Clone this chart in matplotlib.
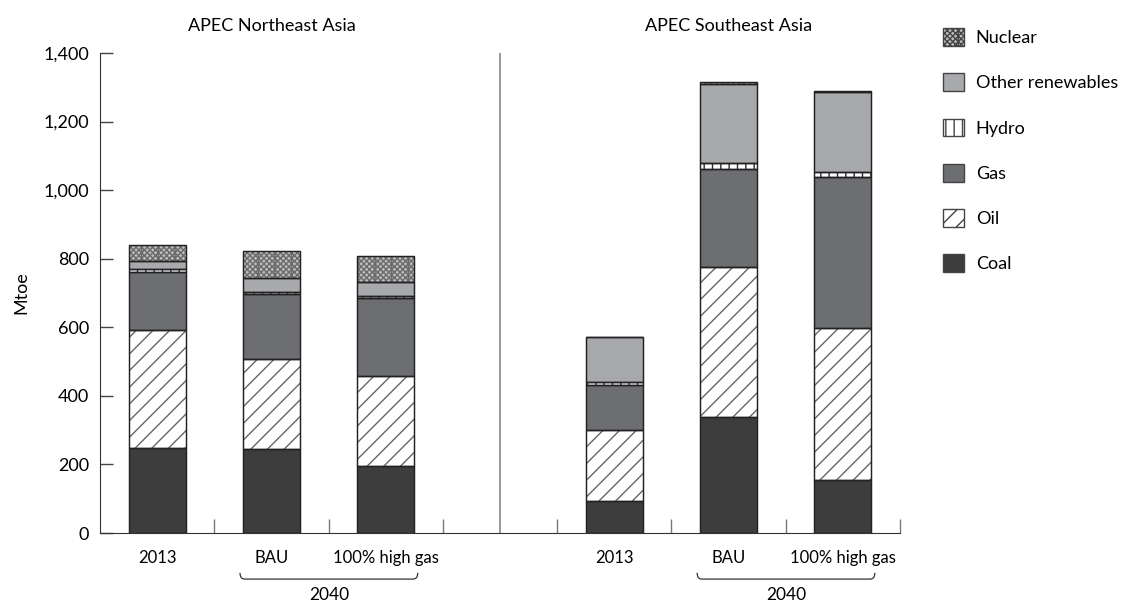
import matplotlib
matplotlib.use("Agg")
import matplotlib.pyplot as plt
from matplotlib.patches import Patch
from matplotlib.path import Path
from matplotlib.patches import PathPatch
import matplotlib.transforms as mtransforms
import numpy as np

plt.rcParams['font.family'] = ['Lato', 'DejaVu Sans']
plt.rcParams['hatch.linewidth'] = 1.0

# Data (Mtoe): NE 2013, NE BAU, NE high gas, SE 2013, SE BAU, SE high gas
categories = ["2013", "BAU", "100% high gas", "2013", "BAU", "100% high gas"]
regions = ["APEC Northeast Asia", "APEC Southeast Asia"]
coal = [247, 244, 196, 93, 337, 155]
oil = [345, 263, 263, 206, 440, 442]
gas = [168, 190, 226, 133, 286, 440]
hydro = [10, 7, 7, 8, 17, 16]
other_ren = [22, 41, 39, 131, 231, 232]
nuclear = [49, 78, 78, 0, 5, 5]
yticks = [0, 200, 400, 600, 800, 1000, 1200, 1400]

series = [
    ("Coal", coal, dict(facecolor="#3d3d3d", hatch=None, edgecolor="#2a2a2a")),
    ("Oil", oil, dict(facecolor="white", hatch="//", edgecolor="#666666")),
    ("Gas", gas, dict(facecolor="#6d6e71", hatch=None, edgecolor="#2a2a2a")),
    ("Hydro", hydro, dict(facecolor="white", hatch="||", edgecolor="#2a2a2a")),
    ("Other renewables", other_ren, dict(facecolor="#a7a9ac", hatch=None, edgecolor="#2a2a2a")),
    ("Nuclear", nuclear, dict(facecolor="#bdbdbd", hatch="|xxxxxx", edgecolor="#6a6a6a")),
]

fig = plt.figure(figsize=(11.27, 6.07), dpi=100)
ax = fig.add_axes([100/1127, 74/607, 800/1127, 480/607])

xpos = [0, 1, 2, 4, 5, 6]
bottom = np.zeros(len(xpos))
for name, vals, st in series:
    v = np.array(vals, dtype=float)
    ax.bar(xpos, v, width=0.5, bottom=bottom, facecolor=st["facecolor"],
           hatch=st["hatch"], edgecolor=st["edgecolor"], linewidth=0.8, zorder=2)
    # outline
    ax.bar(xpos, v, width=0.5, bottom=bottom, facecolor="none",
           edgecolor="#222222", linewidth=1.0, zorder=3)
    bottom += v

ax.set_xlim(-0.5, 6.5)
ax.set_ylim(0, 1400)
ax.set_yticks(yticks)
ax.set_yticklabels([f"{t:,}" for t in yticks])
ax.tick_params(axis='y', direction='in', length=9.5, width=1, color="#444444", pad=8,
               labelsize=13)
ax.set_xticks([0, 1, 2, 4, 5, 6])
ax.set_xticks([0.5, 1.5, 2.5, 3.5, 4.5, 5.5, 6.5], minor=True)
ax.set_xticklabels(categories)
ax.tick_params(axis='x', which='major', length=0, pad=12, labelsize=12)
ax.tick_params(axis='x', which='minor', direction='in', length=10, width=1, color="#777777")
for s in ["top", "right"]:
    ax.spines[s].set_visible(False)
ax.spines["left"].set_color("#333333")
ax.spines["bottom"].set_color("#333333")
ax.set_ylabel("Mtoe", fontsize=13, labelpad=10)
ax.axvline(3, color="#888888", lw=1.2, zorder=1)

trans = mtransforms.blended_transform_factory(ax.transData, ax.transAxes)
for i, r in enumerate(regions):
    ax.text(1 + 4*i, 1.056, r, transform=trans, ha="center", va="center", fontsize=13)

# braces
for off in [0, 4]:
    x0, x1 = 0.725 + off, 2.28 + off
    yt, yb = -0.083, -0.096
    dx = 0.04
    verts = [(x0, yt), (x0, yb), (x0 + dx, yb), (x1 - dx, yb), (x1, yb), (x1, yt)]
    codes = [Path.MOVETO, Path.CURVE3, Path.CURVE3, Path.LINETO, Path.CURVE3, Path.CURVE3]
    pp = PathPatch(Path(verts, codes), transform=trans, fill=False, edgecolor="#333333",
                   lw=0.9, clip_on=False)
    ax.add_patch(pp)
    ax.text((x0 + x1) / 2, -0.13, "2040", transform=trans, ha="center", va="center", fontsize=12.5)

handles = []
for name, vals, st in reversed(series):
    handles.append(Patch(facecolor=st["facecolor"], hatch=st["hatch"], edgecolor="#444444",
                         linewidth=1.0, label=name))
fig.legend(handles=handles, loc="upper left", bbox_to_anchor=(936/1127, 1 - 21/607),
           frameon=False, fontsize=13, handlelength=1.15, handleheight=1.15,
           labelspacing=1.5, handletextpad=0.65, borderaxespad=0)

fig.savefig("out.png", dpi=100)
